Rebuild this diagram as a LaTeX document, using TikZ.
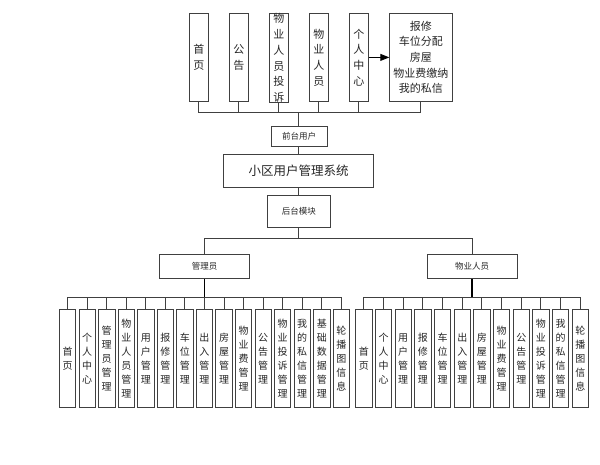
\documentclass[tikz,border=0pt]{standalone}
\usepackage{fontspec}
\setmainfont{Noto Sans CJK SC}
\usetikzlibrary{arrows.meta}
\tikzset{
  box/.style={draw=black!75, line width=0.8pt, fill=white, inner sep=0pt, align=center, text=black!85},
  topbox/.style={box, anchor=north west, minimum width=18.4pt, minimum height=87.4pt, font=\fontsize{11}{15.7}\selectfont},
  bigbox/.style={box, anchor=north west, minimum width=62.4pt, minimum height=87.4pt, font=\fontsize{11}{15.7}\selectfont},
  vbox/.style={box, anchor=north west, minimum width=16.4pt, minimum height=97.4pt, font=\fontsize{10}{14}\selectfont},
  midbox/.style={box, anchor=north west, font=\fontsize{8.5}{10}\selectfont},
  conn/.style={draw=black!75, line width=0.9pt},
  thick conn/.style={draw=black, line width=1.3pt}
}
\begin{document}
\begin{tikzpicture}[x=1pt,y=-1pt]
\useasboundingbox (0,0) rectangle (600,464);
% top row
\node[topbox] (T1) at (189.3,13.3) {首\\页};
\node[topbox] (T2) at (229.3,13.3) {公\\告};
\node[topbox] (T3) at (269.3,13.3) {物\\业\\人\\员\\投\\诉};
\node[topbox] (T4) at (309.3,13.3) {物\\业\\人\\员};
\node[topbox] (T5) at (349.3,13.3) {个\\人\\中\\心};
\node[bigbox] (T6) at (389.3,13.3) {报修\\车位分配\\房屋\\物业费缴纳\\我的私信};
\draw[conn, draw=black, -{Triangle[length=9pt,width=7pt]}] (T5.east) -- (T6.west);
% middle column
\node[midbox, minimum width=56pt, minimum height=20pt] (front) at (270.7,126) {前台用户};
\node[box, anchor=north west, minimum width=150pt, minimum height=32.7pt, font=\fontsize{12.5}{14}\selectfont] (sys) at (223.3,154) {小区用户管理系统};
\node[midbox, minimum width=63.3pt, minimum height=32.6pt] (back) at (266.7,194.7) {后台模块};
\node[midbox, minimum width=90pt, minimum height=24.3pt] (adm) at (159.3,254) {管理员};
\node[midbox, minimum width=90pt, minimum height=24.3pt] (prop) at (426.7,254) {物业人员};
% top bus
\coordinate (busT) at (298.5,112.7);
\foreach \k in {1,...,6} { \draw[conn] (T\k.south) -- (T\k.south |- busT); }
\draw[conn] (T1.south |- busT) -- (T6.south |- busT);
\draw[conn] (busT) -- (busT |- front.north);
\draw[conn] (busT |- front.south) -- (busT |- sys.north);
\draw[conn] (busT |- sys.south) -- (busT |- back.north);
\coordinate (busM) at (298.5,238.3);
\draw[conn] (busT |- back.south) -- (busM);
\draw[conn] (adm.north) -- (adm.north |- busM) -- (prop.north |- busM) -- (prop.north);
% bottom rows
\foreach \t [count=\i] in {{首\\页},{个\\人\\中\\心},{管\\理\\员\\管\\理},{物\\业\\人\\员\\管\\理},{用\\户\\管\\理},{报\\修\\管\\理},{车\\位\\管\\理},{出\\入\\管\\理},{房\\屋\\管\\理},{物\\业\\费\\管\\理},{公\\告\\管\\理},{物\\业\\投\\诉\\管\\理},{我\\的\\私\\信\\管\\理},{基\\础\\数\\据\\管\\理},{轮\\播\\图\\信\\息}}
  { \node[vbox] (L\i) at ({59+(\i-1)*19.55},309.3) {\t}; }
\foreach \t [count=\i] in {{首\\页},{个\\人\\中\\心},{用\\户\\管\\理},{报\\修\\管\\理},{车\\位\\管\\理},{出\\入\\管\\理},{房\\屋\\管\\理},{物\\业\\费\\管\\理},{公\\告\\管\\理},{物\\业\\投\\诉\\管\\理},{我\\的\\私\\信\\管\\理},{轮\\播\\图\\信\\息}}
  { \node[vbox] (R\i) at ({355.3+(\i-1)*19.67},309.3) {\t}; }
\coordinate (busB) at (0,297.3);
\draw[thick conn] (adm.south) -- (adm.south |- busB);
\draw[thick conn] (prop.south) -- (prop.south |- busB);
\draw[conn] (L1.north |- busB) -- (L15.north |- busB);
\draw[conn] (R1.north |- busB) -- (R12.north |- busB);
\foreach \i in {1,...,15} { \draw[conn] (L\i.north) -- (L\i.north |- busB); }
\foreach \i in {1,...,12} { \draw[conn] (R\i.north) -- (R\i.north |- busB); }
\end{tikzpicture}
\end{document}
